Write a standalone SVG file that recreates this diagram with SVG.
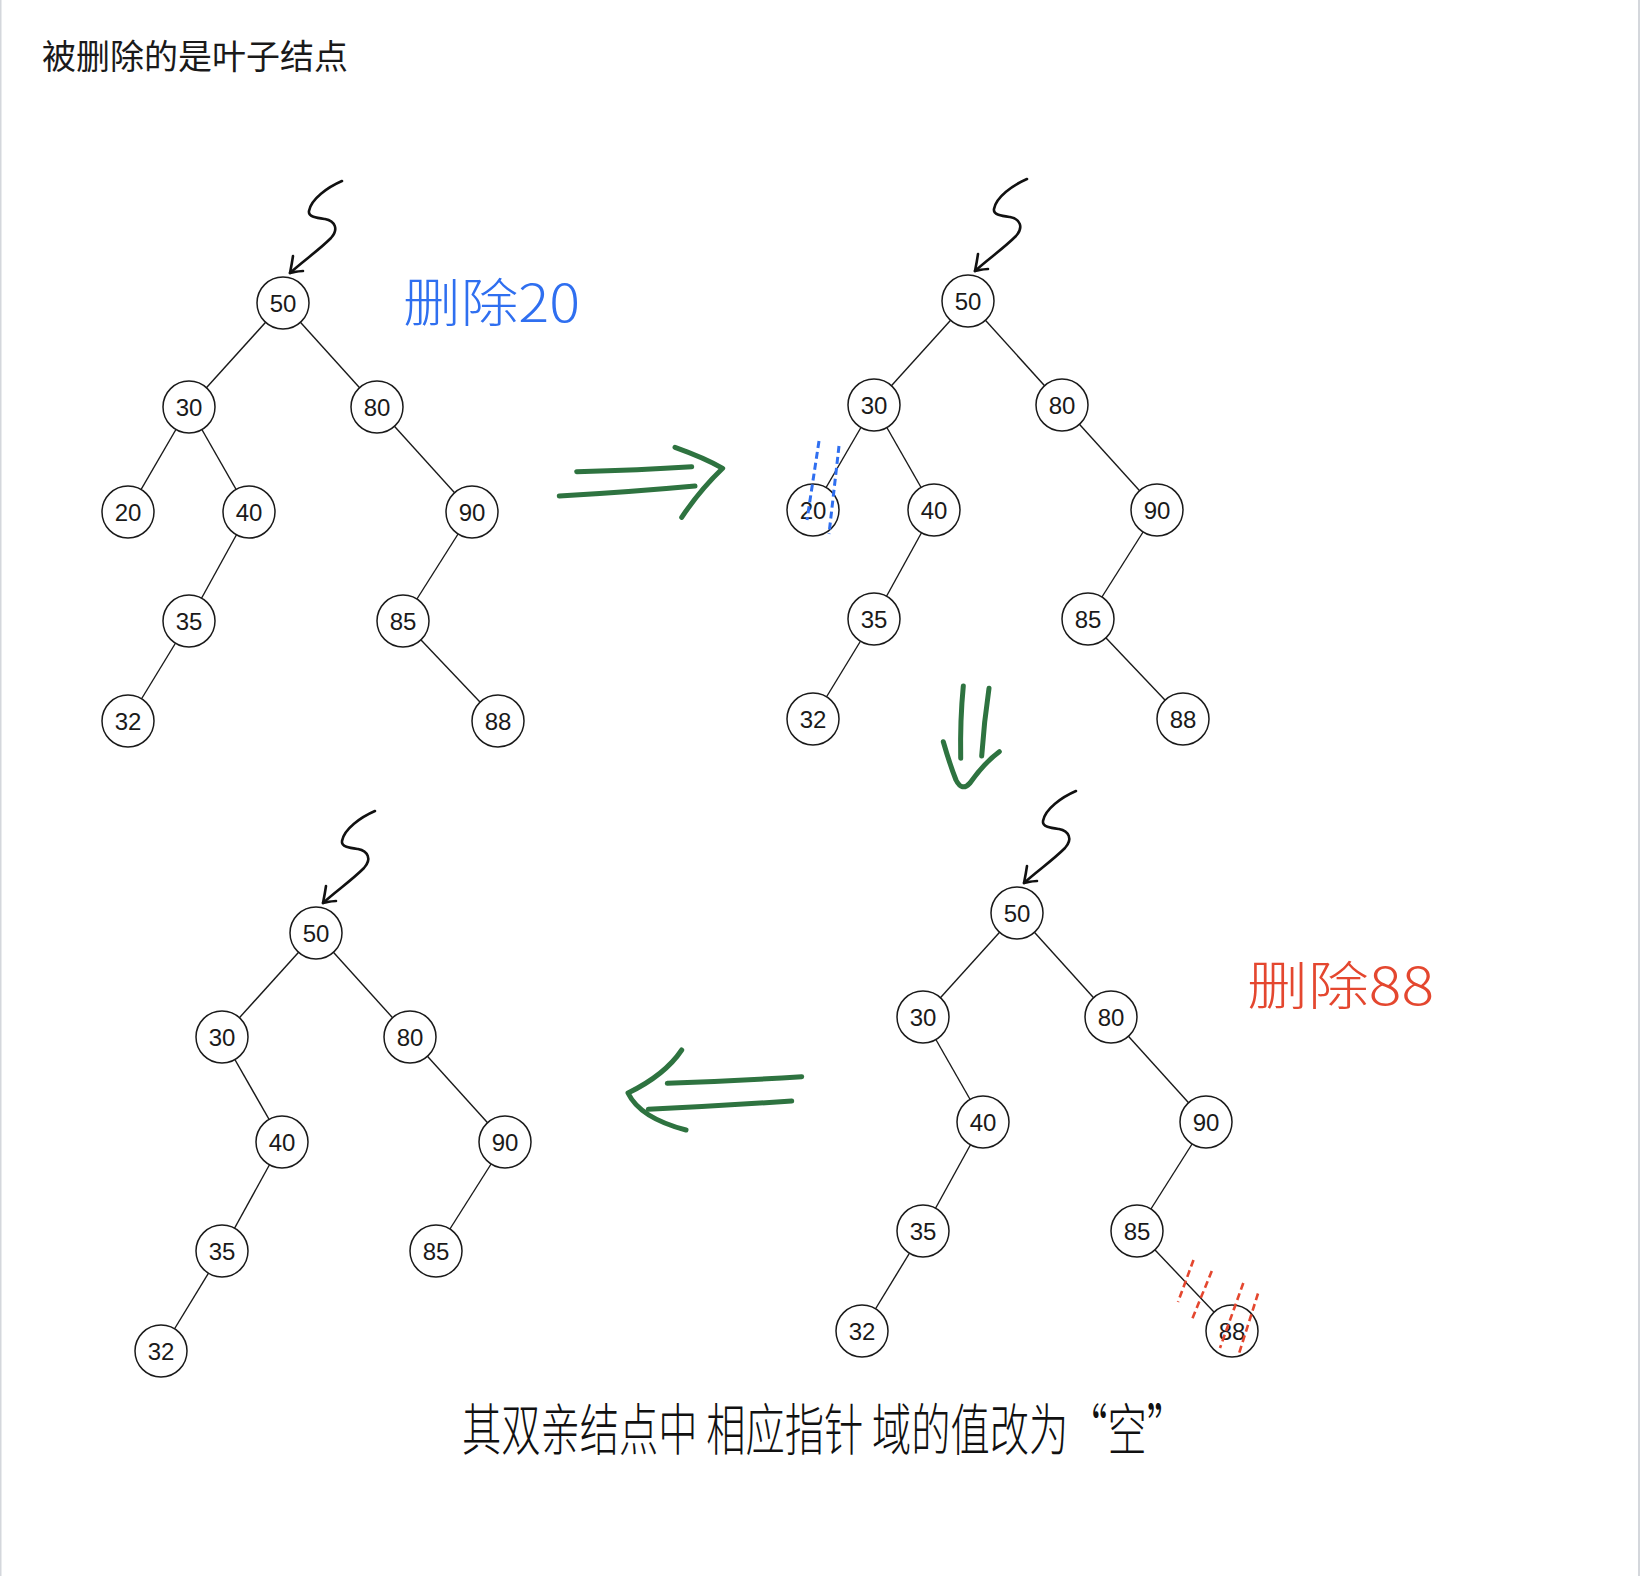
<svg xmlns="http://www.w3.org/2000/svg" xmlns:xlink="http://www.w3.org/1999/xlink" width="1640" height="1576" viewBox="0 0 1640 1576">
<style>
.node circle{fill:#fff;stroke:#1a1a1a;stroke-width:1.5}
.node text{font-family:"Liberation Sans","DejaVu Sans",sans-serif;font-size:24px;fill:#1a1a1a;text-anchor:middle;dominant-baseline:central}
.edge{stroke:#1a1a1a;stroke-width:1.4;fill:none}
.ptr{stroke:#111;stroke-width:2.6;fill:none;stroke-linecap:round;stroke-linejoin:round}
.green{stroke:#2e7340;stroke-width:5;fill:none;stroke-linecap:round;stroke-linejoin:round}
.bdash{stroke:#2f6ff0;stroke-width:3;stroke-dasharray:7 4;fill:none}
.rdash{stroke:#e4472f;stroke-width:2.6;stroke-dasharray:7 4;fill:none}
.cjk{font-family:"Noto Sans CJK SC","Noto Sans",sans-serif}
</style>
<defs>
<g id="pointer">
<path class="ptr" d="M59,-122 C45,-116 28,-104 26,-92 C25,-86 34,-85 42,-84 C52,-82 56,-74 48,-65 C35,-52 20,-42 7,-30"/>
<path class="ptr" d="M10,-47 C9,-40 8,-35 7,-30 C12,-31 16,-32 20,-32"/>
</g>
</defs>
<rect x="0" y="0" width="1640" height="1576" fill="#fff"/>
<line x1="0.5" y1="0" x2="0.5" y2="1576" stroke="#d4d7dc" stroke-width="2"/>
<line x1="1639" y1="0" x2="1639" y2="1576" stroke="#d4d7dc" stroke-width="2"/>

<text id="title" class="cjk" x="42" y="69" font-size="34" fill="#1a1a1a">被删除的是叶子结点</text>

<g id="connectors">
<!-- top-left tree -->
<line class="edge" x1="283" y1="303" x2="189" y2="407"/>
<line class="edge" x1="283" y1="303" x2="377" y2="407"/>
<line class="edge" x1="189" y1="407" x2="128" y2="512"/>
<line class="edge" x1="189" y1="407" x2="249" y2="512"/>
<line class="edge" x1="249" y1="512" x2="189" y2="621"/>
<line class="edge" x1="189" y1="621" x2="128" y2="721"/>
<line class="edge" x1="377" y1="407" x2="472" y2="512"/>
<line class="edge" x1="472" y1="512" x2="403" y2="621"/>
<line class="edge" x1="403" y1="621" x2="498" y2="721"/>
<!-- top-right tree -->
<line class="edge" x1="968" y1="301" x2="874" y2="405"/>
<line class="edge" x1="968" y1="301" x2="1062" y2="405"/>
<line class="edge" x1="874" y1="405" x2="813" y2="510"/>
<line class="edge" x1="874" y1="405" x2="934" y2="510"/>
<line class="edge" x1="934" y1="510" x2="874" y2="619"/>
<line class="edge" x1="874" y1="619" x2="813" y2="719"/>
<line class="edge" x1="1062" y1="405" x2="1157" y2="510"/>
<line class="edge" x1="1157" y1="510" x2="1088" y2="619"/>
<line class="edge" x1="1088" y1="619" x2="1183" y2="719"/>
<!-- bottom-right tree -->
<line class="edge" x1="1017" y1="913" x2="923" y2="1017"/>
<line class="edge" x1="1017" y1="913" x2="1111" y2="1017"/>
<line class="edge" x1="923" y1="1017" x2="983" y2="1122"/>
<line class="edge" x1="983" y1="1122" x2="923" y2="1231"/>
<line class="edge" x1="923" y1="1231" x2="862" y2="1331"/>
<line class="edge" x1="1111" y1="1017" x2="1206" y2="1122"/>
<line class="edge" x1="1206" y1="1122" x2="1137" y2="1231"/>
<line class="edge" x1="1137" y1="1231" x2="1232" y2="1331"/>
<!-- bottom-left tree -->
<line class="edge" x1="316" y1="933" x2="222" y2="1037"/>
<line class="edge" x1="316" y1="933" x2="410" y2="1037"/>
<line class="edge" x1="222" y1="1037" x2="282" y2="1142"/>
<line class="edge" x1="282" y1="1142" x2="222" y2="1251"/>
<line class="edge" x1="222" y1="1251" x2="161" y2="1351"/>
<line class="edge" x1="410" y1="1037" x2="505" y2="1142"/>
<line class="edge" x1="505" y1="1142" x2="436" y2="1251"/>
<!-- root pointers -->
<use xlink:href="#pointer" href="#pointer" transform="translate(283,303)"/>
<use xlink:href="#pointer" href="#pointer" transform="translate(968,301)"/>
<use xlink:href="#pointer" href="#pointer" transform="translate(1017,913)"/>
<use xlink:href="#pointer" href="#pointer" transform="translate(316,933)"/>
<!-- green step arrows -->
<g id="arrow-right">
<path class="green" d="M576.7,471.7 Q640,470 691.7,466.7"/>
<path class="green" d="M559.3,496 Q630,492 695,486"/>
<path class="green" d="M675,447.3 Q705,458 722.7,468.3 Q700,490 681.7,517.3"/>
</g>
<g id="arrow-down">
<path class="green" d="M963.3,686 Q960,720 960.7,758.3"/>
<path class="green" d="M989,688.3 Q984,722 981.7,756"/>
<path class="green" d="M943.3,741.7 Q950,765 956,780 Q962,792 970,783 Q985,762 999.3,751.7"/>
</g>
<g id="arrow-left">
<path class="green" d="M667.3,1083.3 Q735,1081 801.7,1076.7"/>
<path class="green" d="M648.3,1109.3 Q720,1106 791.7,1101"/>
<path class="green" d="M681.7,1050 Q665,1075 628,1093 Q640,1118 686,1130"/>
</g>
</g>

<g id="top-left-tree">
<g id="tl-50" class="node"><circle cx="283" cy="303" r="26"/><text x="283" y="303">50</text></g>
<g id="tl-30" class="node"><circle cx="189" cy="407" r="26"/><text x="189" y="407">30</text></g>
<g id="tl-80" class="node"><circle cx="377" cy="407" r="26"/><text x="377" y="407">80</text></g>
<g id="tl-20" class="node"><circle cx="128" cy="512" r="26"/><text x="128" y="512">20</text></g>
<g id="tl-40" class="node"><circle cx="249" cy="512" r="26"/><text x="249" y="512">40</text></g>
<g id="tl-90" class="node"><circle cx="472" cy="512" r="26"/><text x="472" y="512">90</text></g>
<g id="tl-35" class="node"><circle cx="189" cy="621" r="26"/><text x="189" y="621">35</text></g>
<g id="tl-85" class="node"><circle cx="403" cy="621" r="26"/><text x="403" y="621">85</text></g>
<g id="tl-32" class="node"><circle cx="128" cy="721" r="26"/><text x="128" y="721">32</text></g>
<g id="tl-88" class="node"><circle cx="498" cy="721" r="26"/><text x="498" y="721">88</text></g>
</g>

<g id="top-right-tree">
<g id="tr-50" class="node"><circle cx="968" cy="301" r="26"/><text x="968" y="301">50</text></g>
<g id="tr-30" class="node"><circle cx="874" cy="405" r="26"/><text x="874" y="405">30</text></g>
<g id="tr-80" class="node"><circle cx="1062" cy="405" r="26"/><text x="1062" y="405">80</text></g>
<g id="tr-20" class="node"><circle cx="813" cy="510" r="26"/><text x="813" y="510">20</text></g>
<g id="tr-40" class="node"><circle cx="934" cy="510" r="26"/><text x="934" y="510">40</text></g>
<g id="tr-90" class="node"><circle cx="1157" cy="510" r="26"/><text x="1157" y="510">90</text></g>
<g id="tr-35" class="node"><circle cx="874" cy="619" r="26"/><text x="874" y="619">35</text></g>
<g id="tr-85" class="node"><circle cx="1088" cy="619" r="26"/><text x="1088" y="619">85</text></g>
<g id="tr-32" class="node"><circle cx="813" cy="719" r="26"/><text x="813" y="719">32</text></g>
<g id="tr-88" class="node"><circle cx="1183" cy="719" r="26"/><text x="1183" y="719">88</text></g>
</g>

<g id="bottom-right-tree">
<g id="br-50" class="node"><circle cx="1017" cy="913" r="26"/><text x="1017" y="913">50</text></g>
<g id="br-30" class="node"><circle cx="923" cy="1017" r="26"/><text x="923" y="1017">30</text></g>
<g id="br-80" class="node"><circle cx="1111" cy="1017" r="26"/><text x="1111" y="1017">80</text></g>
<g id="br-40" class="node"><circle cx="983" cy="1122" r="26"/><text x="983" y="1122">40</text></g>
<g id="br-90" class="node"><circle cx="1206" cy="1122" r="26"/><text x="1206" y="1122">90</text></g>
<g id="br-35" class="node"><circle cx="923" cy="1231" r="26"/><text x="923" y="1231">35</text></g>
<g id="br-85" class="node"><circle cx="1137" cy="1231" r="26"/><text x="1137" y="1231">85</text></g>
<g id="br-32" class="node"><circle cx="862" cy="1331" r="26"/><text x="862" y="1331">32</text></g>
<g id="br-88" class="node"><circle cx="1232" cy="1331" r="26"/><text x="1232" y="1331">88</text></g>
</g>

<g id="bottom-left-tree">
<g id="bl-50" class="node"><circle cx="316" cy="933" r="26"/><text x="316" y="933">50</text></g>
<g id="bl-30" class="node"><circle cx="222" cy="1037" r="26"/><text x="222" y="1037">30</text></g>
<g id="bl-80" class="node"><circle cx="410" cy="1037" r="26"/><text x="410" y="1037">80</text></g>
<g id="bl-40" class="node"><circle cx="282" cy="1142" r="26"/><text x="282" y="1142">40</text></g>
<g id="bl-90" class="node"><circle cx="505" cy="1142" r="26"/><text x="505" y="1142">90</text></g>
<g id="bl-35" class="node"><circle cx="222" cy="1251" r="26"/><text x="222" y="1251">35</text></g>
<g id="bl-85" class="node"><circle cx="436" cy="1251" r="26"/><text x="436" y="1251">85</text></g>
<g id="bl-32" class="node"><circle cx="161" cy="1351" r="26"/><text x="161" y="1351">32</text></g>
</g>

<g id="strike-20">
<path class="bdash" d="M819,441 L807,520"/>
<path class="bdash" d="M839,446 L829,534"/>
</g>
<g id="strike-88">
<path class="rdash" d="M1193.5,1260 L1178,1302"/>
<path class="rdash" d="M1211.8,1271 L1192.2,1319"/>
<path class="rdash" d="M1243.3,1283 L1220,1348"/>
<path class="rdash" d="M1258,1293.5 L1238.4,1355.5"/>
</g>

<g id="label-delete-20"><text class="cjk" x="403" y="322" font-size="52" font-weight="300" fill="#2f6ff0" textLength="177" lengthAdjust="spacingAndGlyphs">删除20</text></g>
<g id="label-delete-88"><text class="cjk" x="1247" y="1005" font-size="52" font-weight="300" fill="#e4472f" textLength="187" lengthAdjust="spacingAndGlyphs">删除88</text></g>

<g id="caption"><text class="cjk" x="462" y="1450" font-size="56" font-weight="300" fill="#111" textLength="724" lengthAdjust="spacingAndGlyphs">其双亲结点中 相应指针 域的值改为“空”</text></g>
</svg>
